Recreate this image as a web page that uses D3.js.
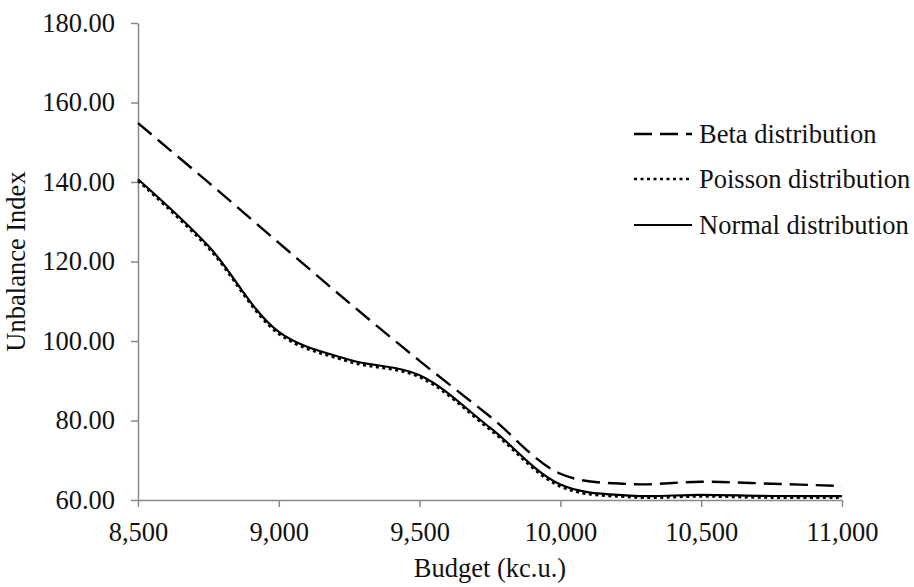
<!DOCTYPE html>
<html>
<head>
<meta charset="utf-8">
<script src="https://cdn.jsdelivr.net/npm/d3@7"></script>
</head>
<body style="margin:0;background:#fff">
<svg id="chart" width="914" height="587" style="display:block"></svg>
<script>
// Budget levels (k c.u.)
const budgets = [8500, 8750, 9000, 9250, 9500, 9750, 10000, 10250, 10500, 10750, 11000];

// Unbalance index for each demand distribution
const betaValues    = [154.8, 139.9, 124.7, 109.6, 95.0, 81.0, 66.6, 64.0, 64.6, 64.1, 63.5];
const poissonValues = [140.3, 123.4, 101.8, 94.8, 90.9, 77.7, 63.4, 60.7, 60.9, 60.6, 60.6];
const normalValues  = [140.7, 123.9, 102.3, 95.3, 91.4, 78.2, 63.9, 61.1, 61.3, 61.0, 61.0];

const seriesNames = ["Beta distribution", "Poisson distribution", "Normal distribution"];

// Axis ticks
const xTicks = [8500, 9000, 9500, 10000, 10500, 11000];
const yTicks = [60, 80, 100, 120, 140, 160, 180];

const svg = d3.select("#chart");
const margin = { left: 138, right: 72, top: 23, bottom: 87 };
const W = 914, H = 587;

const x = d3.scaleLinear().domain([8500, 11000]).range([margin.left, W - margin.right]);
const y = d3.scaleLinear().domain([60, 180]).range([H - margin.bottom, margin.top]);

const axisColor = "#898989";
const serif = "Liberation Serif";
const textColor = "#111";

function styleText(sel) {
  return sel
    .attr("font-family", serif)
    .attr("font-size", 26.5)
    .attr("fill", textColor)
    .style("font-family", serif)
    .style("font-size", "26.5px");
}

// Y axis
const gy = svg.append("g")
  .attr("transform", `translate(${margin.left},0)`)
  .call(d3.axisLeft(y).tickValues(yTicks).tickSize(7).tickSizeOuter(0).tickPadding(16)
        .tickFormat(d3.format(".2f")));
// X axis
const gx = svg.append("g")
  .attr("transform", `translate(0,${H - margin.bottom})`)
  .call(d3.axisBottom(x).tickValues(xTicks).tickSize(7).tickSizeOuter(0).tickPadding(15)
        .tickFormat(d3.format(",")));

[gx, gy].forEach(g => {
  g.attr("font-family", serif).attr("font-size", 26.5);
  g.select(".domain").attr("stroke", axisColor).attr("stroke-width", 1.5);
  g.selectAll(".tick line").attr("stroke", axisColor).attr("stroke-width", 1.5);
  styleText(g.selectAll(".tick text"));
});

// Axis titles
styleText(svg.append("text")
  .attr("x", (margin.left + W - margin.right) / 2)
  .attr("y", 577)
  .attr("text-anchor", "middle")
  .text("Budget (kc.u.)"));

styleText(svg.append("text")
  .attr("transform", `translate(25,${(margin.top + H - margin.bottom) / 2}) rotate(-90)`)
  .attr("text-anchor", "middle")
  .text("Unbalance Index"));

// Series styles
const styles = [
  { values: betaValues,    dash: "18,8",  width: 2.4 },
  { values: poissonValues, dash: "3,3.5", width: 2.6 },
  { values: normalValues,  dash: null,    width: 2.2 }
];

const line = d3.line()
  .x(d => x(d[0]))
  .y(d => y(d[1]))
  .curve(d3.curveCatmullRom.alpha(0.5));

styles.forEach(s => {
  svg.append("path")
    .datum(budgets.map((b, i) => [b, s.values[i]]))
    .attr("fill", "none")
    .attr("stroke", "#000")
    .attr("stroke-width", s.width)
    .attr("stroke-dasharray", s.dash)
    .attr("d", line);
});

// Legend
const legendY = [134, 179, 225];
const legend = svg.append("g");
styles.forEach((s, i) => {
  legend.append("line")
    .attr("x1", 634).attr("x2", 692)
    .attr("y1", legendY[i]).attr("y2", legendY[i])
    .attr("stroke", "#000")
    .attr("stroke-width", s.width)
    .attr("stroke-dasharray", s.dash);
  styleText(legend.append("text")
    .attr("x", 699)
    .attr("y", legendY[i])
    .attr("dy", "0.35em")
    .text(seriesNames[i]));
});
</script>
</body>
</html>
